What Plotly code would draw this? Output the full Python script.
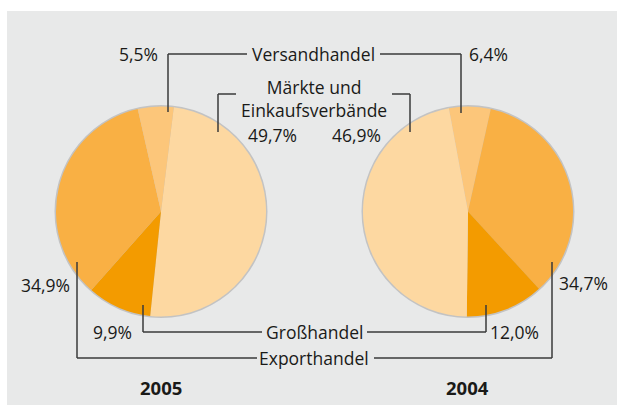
import plotly.graph_objects as go

# ---- data ----
categories = ["Märkte und Einkaufsverbände", "Großhandel", "Exporthandel", "Versandhandel"]
values_2005 = [49.7, 9.9, 34.9, 5.5]
order_2004 = ["Versandhandel", "Exporthandel", "Großhandel", "Märkte und Einkaufsverbände"]
values_2004 = [6.4, 34.7, 12.0, 46.9]
years = ["2005", "2004"]

colors = {
    "Märkte und Einkaufsverbände": "#FDD8A1",
    "Großhandel": "#F39B00",
    "Exporthandel": "#F9B044",
    "Versandhandel": "#FCC67A",
}

W, H = 618, 405
FONT = "Open Sans"
FS = 17.5
TXT = "#1a1a18"
LINE = "#3a3a3a"


def px(x):
    return x / W


def py(y):
    return 1 - y / H


def pct(v):
    return f"{v:.1f}".replace(".", ",") + "%"


# pie geometry (pixels)
R = 105
centers = [(161, 211.5), (468, 211.5)]
rotations = [7, -10.5]


def dom(cx, cy, r):
    return dict(x=[px(cx - r), px(cx + r)], y=[py(cy + r), py(cy - r)])


fig = go.Figure()

# outline circles
for (cx, cy) in centers:
    fig.add_trace(go.Pie(values=[1], labels=["o"], marker=dict(colors=["#C3C3C3"], line=dict(width=0)),
                         domain=dom(cx, cy, R + 1.5), textinfo="none", hoverinfo="skip", sort=False))

fig.add_trace(go.Pie(values=values_2005, labels=categories,
                     marker=dict(colors=[colors[c] for c in categories], line=dict(width=0)),
                     domain=dom(*centers[0], R), rotation=rotations[0], direction="clockwise",
                     sort=False, textinfo="none"))
fig.add_trace(go.Pie(values=values_2004, labels=order_2004,
                     marker=dict(colors=[colors[c] for c in order_2004], line=dict(width=0)),
                     domain=dom(*centers[1], R), rotation=rotations[1], direction="clockwise",
                     sort=False, textinfo="none"))

shapes = [dict(type="rect", xref="paper", yref="paper", x0=px(7), x1=px(617), y0=py(405), y1=py(11),
               fillcolor="#E8E9E9", line=dict(width=0), layer="below")]


def poly(points):
    for (x0, y0), (x1, y1) in zip(points[:-1], points[1:]):
        shapes.append(dict(type="line", xref="paper", yref="paper", x0=px(x0), y0=py(y0), x1=px(x1), y1=py(y1),
                           line=dict(color=LINE, width=1.5)))


# leader lines (pixels)
poly([(168, 112), (168, 54), (247, 54)])
poly([(380, 54), (461, 54), (461, 113)])
poly([(236, 94), (218, 94), (218, 132)])
poly([(392, 94), (410, 94), (410, 132)])
poly([(143, 305), (143, 332), (262, 332)])
poly([(367, 332), (486, 332), (486, 305)])
poly([(77, 262), (77, 358), (257, 358)])
poly([(374, 358), (552, 358), (552, 262)])

v05 = dict(zip(categories, values_2005))
v04 = dict(zip(order_2004, values_2004))

ann = []


def text(t, x, y, anchor, bold=False, size=FS):
    ann.append(dict(text=f"<b>{t}</b>" if bold else t, x=px(x), y=py(y), xref="paper", yref="paper",
                    xanchor=anchor, yanchor="middle", showarrow=False, borderpad=0,
                    font=dict(family=FONT, size=size, color=TXT)))


text("Versandhandel", 313.5, 54, "center")
text("Märkte und<br>Einkaufsverbände", 314, 98, "center")
text("Großhandel", 314, 332, "center")
text("Exporthandel", 314, 358, "center")

text(pct(v05["Versandhandel"]), 159, 54, "right")
text(pct(v04["Versandhandel"]), 468, 54, "left")
text(pct(v05["Märkte und Einkaufsverbände"]), 247, 135, "left")
text(pct(v04["Märkte und Einkaufsverbände"]), 382, 135, "right")
text(pct(v05["Großhandel"]), 133, 332, "right")
text(pct(v04["Großhandel"]), 489, 332, "left")
text(pct(v05["Exporthandel"]), 71, 285, "right")
text(pct(v04["Exporthandel"]), 558, 283, "left")

text(years[0], 160.5, 387, "center", bold=True, size=18.5)
text(years[1], 467.5, 387, "center", bold=True, size=18.5)

fig.update_layout(width=W, height=H, margin=dict(l=0, r=0, t=0, b=0), paper_bgcolor="white",
                  showlegend=False, shapes=shapes, annotations=ann)

fig.write_html("out.html", config={"displayModeBar": False, "staticPlot": True},
               post_script="document.body.style.margin='0';document.body.style.overflow='hidden';")
